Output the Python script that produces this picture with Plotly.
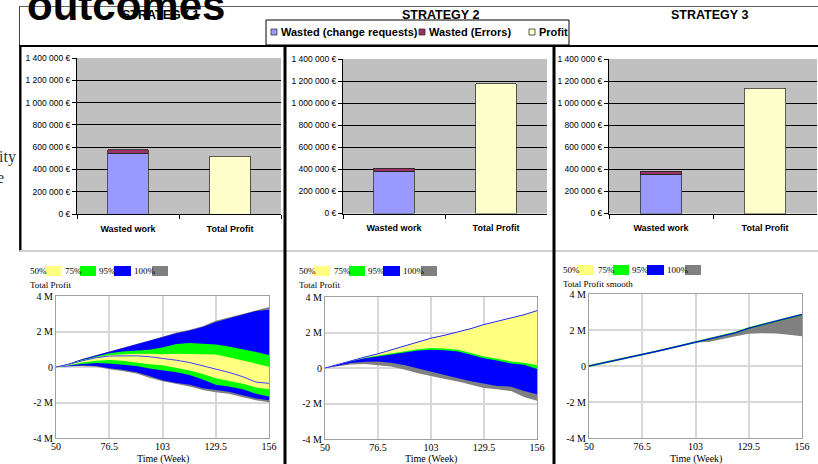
import plotly.graph_objects as go

W, H = 818, 464

# ---------------- bar charts (one per strategy) ----------------
strategy_titles = ["STRATEGY 1", "STRATEGY 2", "STRATEGY 3"]
bar_categories = ["Wasted work", "Total Profit"]
wasted_change_requests = [545000, 382000, 355000]
wasted_errors = [30000, 27000, 30000]
total_profit = [518000, 1178000, 1136000]
euro_ticks = [0, 200000, 400000, 600000, 800000, 1000000, 1200000, 1400000]
euro_tick_labels = ["0 €", "200 000 €", "400 000 €", "600 000 €", "800 000 €",
                    "1 000 000 €", "1 200 000 €", "1 400 000 €"]

# ---------------- sensitivity runs, Total Profit in millions ----------------
weeks = [50, 56.5, 63, 70, 76.5, 83, 90, 96.5, 103, 110, 116.5, 123, 129.5, 136, 143, 149.5, 156]

s1_hi100 = [0, 0.20, 0.45, 0.68, 0.88, 1.10, 1.30, 1.50, 1.70, 1.95, 2.10, 2.30, 2.60, 2.80, 3.00, 3.20, 3.38]
s1_hi95 = [0, 0.18, 0.43, 0.65, 0.85, 1.06, 1.27, 1.47, 1.66, 1.90, 2.05, 2.25, 2.54, 2.75, 2.95, 3.15, 3.23]
s1_hi75 = [0, 0.17, 0.40, 0.60, 0.77, 0.88, 0.93, 0.97, 1.10, 1.30, 1.35, 1.32, 1.27, 1.15, 1.00, 0.85, 0.67]
s1_hi50 = [0, 0.15, 0.37, 0.55, 0.67, 0.72, 0.75, 0.75, 0.72, 0.75, 0.75, 0.73, 0.71, 0.55, 0.35, 0.20, 0.02]
s1_base = [0, 0.15, 0.35, 0.52, 0.62, 0.64, 0.63, 0.58, 0.50, 0.38, 0.25, 0.08, -0.11, -0.30, -0.55, -0.85, -0.92]
s1_lo50 = [0, 0.10, 0.25, 0.35, 0.40, 0.35, 0.25, 0.15, 0.10, -0.05, -0.20, -0.40, -0.64, -0.80, -0.95, -1.15, -1.25]
s1_lo75 = [0, 0.08, 0.17, 0.22, 0.20, 0.13, 0.05, -0.08, -0.20, -0.30, -0.45, -0.70, -1.00, -1.10, -1.25, -1.50, -1.66]
s1_lo95 = [0, 0.05, 0.08, 0.05, -0.07, -0.15, -0.30, -0.50, -0.75, -0.90, -1.00, -1.20, -1.30, -1.40, -1.60, -1.78, -1.88]
s1_lo100 = [0, 0.04, 0.06, 0.02, -0.13, -0.22, -0.36, -0.60, -0.80, -0.95, -1.10, -1.30, -1.42, -1.50, -1.70, -1.88, -1.98]

s2_top = [0, 0.20, 0.43, 0.62, 0.80, 1.02, 1.23, 1.45, 1.68, 1.85, 2.02, 2.22, 2.45, 2.62, 2.82, 3.00, 3.23]
s2_lo50 = [0, 0.18, 0.40, 0.58, 0.71, 0.85, 0.95, 1.05, 1.12, 1.10, 1.03, 0.85, 0.65, 0.52, 0.37, 0.30, 0.15]
s2_lo75 = [0, 0.17, 0.38, 0.55, 0.64, 0.78, 0.88, 0.98, 1.03, 1.00, 0.93, 0.75, 0.55, 0.42, 0.26, 0.18, -0.05]
s2_lo95 = [0, 0.12, 0.28, 0.35, 0.36, 0.30, 0.15, 0.00, -0.22, -0.40, -0.58, -0.75, -0.90, -1.02, -1.05, -1.30, -1.48]
s2_lo100 = [0, 0.10, 0.20, 0.22, 0.15, 0.08, -0.10, -0.30, -0.47, -0.62, -0.76, -0.95, -1.12, -1.20, -1.30, -1.63, -1.85]

s3_top = [0, 0.15, 0.30, 0.48, 0.62, 0.80, 0.98, 1.15, 1.32, 1.50, 1.68, 1.85, 2.10, 2.30, 2.50, 2.68, 2.86]
s3_lo100 = [0, 0.15, 0.30, 0.48, 0.62, 0.80, 0.98, 1.15, 1.30, 1.35, 1.52, 1.65, 1.79, 1.82, 1.80, 1.74, 1.65]

profit_ticks = [-4, -2, 0, 2, 4]
profit_tick_labels = ["-4 M", "-2 M", "0", "2 M", "4 M"]
week_ticks = [50, 76.5, 103, 129.5, 156]
week_tick_labels = ["50", "76.5", "103", "129.5", "156"]
band_labels = ["50%", "75%", "95%", "100%"]
band_colors = ["#FFFF80", "#00FF00", "#0000FF", "#808080"]
sens_titles = ["Total Profit", "Total Profit", "Total Profit smooth"]

SANS = "Liberation Sans, Arial, sans-serif"
SERIF = "Liberation Serif, Times New Roman, serif"


def fx(px):
    return px / W


def fy(py):
    return 1 - py / H


def ax_id(letter, n):
    return letter if n == 1 else f"{letter}{n}"


bar_x_px = [(77, 281), (343, 547), (609, 817)]
bar_y_px = [(58, 214), (59, 213.5), (59, 213.5)]
sens_x_px = [(56, 269), (325, 537), (589, 802)]
sens_y_px = [(296, 438), (297, 439), (294, 438)]

fig = go.Figure()
shapes = []
annotations = []

# bars
for i in range(3):
    xa, ya = ax_id("x", i + 1), ax_id("y", i + 1)
    fig.add_trace(go.Bar(x=[bar_categories[0]], y=[wasted_change_requests[i]], width=0.4,
                         marker=dict(color="#9999FF", line=dict(color="#333333", width=0.8)),
                         xaxis=xa, yaxis=ya, showlegend=False))
    fig.add_trace(go.Bar(x=[bar_categories[0]], y=[wasted_errors[i]], width=0.4,
                         marker=dict(color="#993366", line=dict(color="#222222", width=0.8)),
                         xaxis=xa, yaxis=ya, showlegend=False))
    fig.add_trace(go.Bar(x=[bar_categories[1]], y=[total_profit[i]], width=0.4,
                         marker=dict(color="#FFFFCC", line=dict(color="#333333", width=0.8)),
                         xaxis=xa, yaxis=ya, showlegend=False))
    shapes.append(dict(type="rect", xref=f"{xa} domain", yref=f"{ya} domain",
                       x0=0, x1=1, y0=0, y1=1, fillcolor="#C0C0C0", line=dict(width=0),
                       layer="below"))


# sensitivity bands
def band(xa, ya, lo, hi, color):
    fig.add_trace(go.Scatter(x=weeks + weeks[::-1], y=hi + lo[::-1], fill="toself",
                             fillcolor=color, line=dict(width=0), mode="lines",
                             xaxis=xa, yaxis=ya, showlegend=False, hoverinfo="skip"))


band("x4", "y4", s1_lo100, s1_hi100, band_colors[3])
band("x4", "y4", s1_lo95, s1_hi95, band_colors[2])
band("x4", "y4", s1_lo75, s1_hi75, band_colors[1])
band("x4", "y4", s1_lo50, s1_hi50, band_colors[0])
fig.add_trace(go.Scatter(x=weeks, y=s1_base, mode="lines", line=dict(color="#4040FF", width=1),
                         xaxis="x4", yaxis="y4", showlegend=False))

band("x5", "y5", s2_lo100, s2_top, band_colors[3])
band("x5", "y5", s2_lo95, s2_top, band_colors[2])
band("x5", "y5", s2_lo75, s2_top, band_colors[1])
band("x5", "y5", s2_lo50, s2_top, band_colors[0])
fig.add_trace(go.Scatter(x=weeks, y=s2_top, mode="lines", line=dict(color="#3030FF", width=1),
                         xaxis="x5", yaxis="y5", showlegend=False))

band("x6", "y6", s3_lo100, s3_top, band_colors[3])
fig.add_trace(go.Scatter(x=weeks, y=s3_top, mode="lines", line=dict(color="#00C000", width=1.8),
                         xaxis="x6", yaxis="y6", showlegend=False))
fig.add_trace(go.Scatter(x=weeks, y=s3_top, mode="lines", line=dict(color="#0000FF", width=1.1),
                         xaxis="x6", yaxis="y6", showlegend=False))

layout_axes = {}
for i in range(3):
    n = i + 1
    xk = "xaxis" if n == 1 else f"xaxis{n}"
    yk = "yaxis" if n == 1 else f"yaxis{n}"
    layout_axes[xk] = dict(
        domain=[fx(bar_x_px[i][0]), fx(bar_x_px[i][1])], anchor=ax_id("y", n),
        type="category", categoryorder="array", categoryarray=bar_categories,
        range=[-0.5, 1.5], tickson="boundaries", ticks="outside", ticklen=4,
        tickcolor="#000000", showline=True, linecolor="#000000", linewidth=1,
        showgrid=False, ticklabelstandoff=6, automargin=False,
        tickfont=dict(family=SANS, size=9, color="#000000", weight="bold"), fixedrange=True)
    layout_axes[yk] = dict(
        domain=[fy(bar_y_px[i][1]), fy(bar_y_px[i][0])], anchor=ax_id("x", n),
        range=[0, 1400000], tickvals=euro_ticks, ticktext=euro_tick_labels,
        showgrid=True, gridcolor="#000000", gridwidth=1, zeroline=False, automargin=False,
        showline=True, linecolor="#000000", ticks="outside", ticklen=4, tickcolor="#000000",
        tickfont=dict(family=SANS, size=8.5, color="#000000"), fixedrange=True)
    m = i + 4
    layout_axes[f"xaxis{m}"] = dict(
        domain=[fx(sens_x_px[i][0]), fx(sens_x_px[i][1])], anchor=f"y{m}",
        range=[50, 156], tickvals=week_ticks, ticktext=week_tick_labels,
        showgrid=True, gridcolor="#D8D8D8", gridwidth=1.5, zeroline=False, automargin=False,
        showline=True, mirror=True, linecolor="#A0A0A0", ticks="", ticklabelstandoff=-1,
        tickfont=dict(family=SERIF, size=10, color="#000000"), fixedrange=True)
    layout_axes[f"yaxis{m}"] = dict(
        domain=[fy(sens_y_px[i][1]), fy(sens_y_px[i][0])], anchor=f"x{m}",
        range=[-4, 4], tickvals=profit_ticks, ticktext=profit_tick_labels,
        showgrid=True, gridcolor="#D8D8D8", gridwidth=1.5, zeroline=False, automargin=False,
        showline=True, mirror=True, linecolor="#A0A0A0", ticks="",
        tickfont=dict(family=SERIF, size=10, color="#000000"), fixedrange=True)

    # axis title and sensitivity legend
    cx = (sens_x_px[i][0] + sens_x_px[i][1]) / 2
    annotations.append(dict(text="Time (Week)", x=fx(cx), y=fy(458.5), xref="paper",
                            yref="paper", showarrow=False, xanchor="center", yanchor="middle",
                            font=dict(family=SERIF, size=10, color="#000000")))
    lx = [28, 297, 561][i]
    ly = [271, 271, 270][i]
    annotations.append(dict(text=sens_titles[i], x=fx(lx), y=fy(ly + 13.5), xref="paper",
                            yref="paper", showarrow=False, xanchor="left", yanchor="middle",
                            font=dict(family=SERIF, size=9, color="#000000")))
    text_off = [0, 35, 69, 104]
    sw_off = [(17, 33), (52, 68), (86, 103), (124, 140)]
    for k in range(4):
        annotations.append(dict(text=band_labels[k], x=fx(lx + text_off[k]), y=fy(ly),
                                xref="paper", yref="paper", showarrow=False,
                                xanchor="left", yanchor="middle",
                                font=dict(family=SERIF, size=9, color="#000000")))
        shapes.append(dict(type="rect", xref="paper", yref="paper",
                           x0=fx(lx + sw_off[k][0]), x1=fx(lx + sw_off[k][1]),
                           y0=fy(ly + 5), y1=fy(ly - 5),
                           fillcolor=band_colors[k], line=dict(width=0)))

# strategy titles
title_x = [160, 441, 709]
for i in range(3):
    annotations.append(dict(text=strategy_titles[i], x=fx(title_x[i]), y=fy(15), xref="paper",
                            yref="paper", showarrow=False, xanchor="center", yanchor="middle",
                            font=dict(family=SANS, size=12.5, color="#000000", weight="bold")))

# heading text and side text
annotations.append(dict(text="outcomes", x=fx(25), y=fy(5), xref="paper", yref="paper",
                        showarrow=False, xanchor="left", yanchor="middle",
                        font=dict(family=SANS, size=42, color="#000000", weight="bold")))
annotations.append(dict(text="ity", x=fx(18), y=fy(157), xref="paper", yref="paper",
                        showarrow=False, xanchor="right", yanchor="middle",
                        font=dict(family=SERIF, size=16, color="#333333")))
annotations.append(dict(text="e", x=fx(6), y=fy(178), xref="paper", yref="paper",
                        showarrow=False, xanchor="right", yanchor="middle",
                        font=dict(family=SERIF, size=16, color="#333333")))

# bar chart legend
shapes.append(dict(type="rect", xref="paper", yref="paper", x0=fx(266), x1=fx(569),
                   y0=fy(45), y1=fy(20), fillcolor="#FFFFFF",
                   line=dict(color="#000000", width=1)))
legend_items = [("Wasted (change requests)", "#9999FF", 271),
                ("Wasted (Errors)", "#993366", 419),
                ("Profit", "#FFFFCC", 529)]
for label, color, x0 in legend_items:
    shapes.append(dict(type="rect", xref="paper", yref="paper", x0=fx(x0), x1=fx(x0 + 6),
                       y0=fy(35), y1=fy(29), fillcolor=color,
                       line=dict(color="#333333", width=0.8)))
    annotations.append(dict(text=label, x=fx(x0 + 8), y=fy(32), xref="paper", yref="paper",
                            showarrow=False, xanchor="left", yanchor="middle",
                            font=dict(family=SANS, size=11, color="#000000", weight="bold")))


# frame lines
def line(x0, y0, x1, y1, color, width):
    shapes.append(dict(type="line", xref="paper", yref="paper", x0=fx(x0), y0=fy(y0),
                       x1=fx(x1), y1=fy(y1), line=dict(color=color, width=width)))


line(19, 6.5, 818, 6.5, "#606060", 1)
line(19.5, 6, 19.5, 251, "#404040", 1)
line(19, 46, 818, 46, "#000000", 2)
line(20.5, 46, 20.5, 250, "#000000", 2)
line(19, 251, 818, 251, "#A0A0A0", 1)
line(285, 46, 285, 464, "#000000", 3)
line(554, 46, 554, 464, "#000000", 3)

fig.update_layout(
    template="none",
    width=W, height=H, autosize=False,
    margin=dict(l=0, r=0, t=0, b=0, pad=0),
    paper_bgcolor="#FFFFFF", plot_bgcolor="rgba(0,0,0,0)",
    barmode="stack", bargap=0.6, showlegend=False,
    shapes=shapes, annotations=annotations,
    **layout_axes,
)

fig.write_html("out.html", post_script="document.body.style.margin='0';")
